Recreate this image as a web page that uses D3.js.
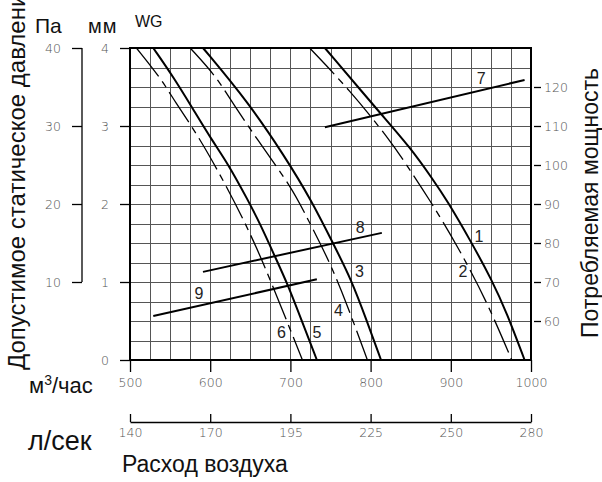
<!DOCTYPE html>
<meta charset="utf-8">
<style>
body { margin: 0; background: #fff; }
svg { font-family: "Liberation Sans", Arial, sans-serif; }
.grid line { stroke: #555; stroke-width: 1; shape-rendering: crispEdges; }
.grid path { stroke-width: 0; }
.axis path, .axis line { stroke: #000; stroke-width: 1.3; }
.axis text { fill: #555; font-size: 12.5px; font-family: "DejaVu Sans", sans-serif; font-weight: 200; }
.curve { fill: none; stroke: #000; stroke-width: 2; }
.curve.dashed { stroke-width: 1.3; stroke-dasharray: 36,6,7,6; }
.power { fill: none; stroke: #000; stroke-width: 2; }
.lbl { font-size: 16px; fill: #222; text-anchor: middle; }
.title { font-size: 23px; fill: #111; }
</style>
<body>
<script src="https://cdnjs.cloudflare.com/ajax/libs/d3/7.8.5/d3.min.js"></script>
<script>
// ticks
var flowTicks = [500, 600, 700, 800, 900, 1000];
var lsLabels = ["140", "170", "195", "225", "250", "280"];
var mmTicks = [0, 1, 2, 3, 4];
var paTicks = [10, 20, 30, 40];
var wTicks = [60, 70, 80, 90, 100, 110, 120];

// pressure curves (flow m3/h, pressure mm WG)
var c1Flow = [743, 814, 849, 878, 895, 924, 951, 970, 992];
var c1Mm   = [4.0, 3.14, 2.73, 2.31, 2.05, 1.54, 1.03, 0.60, 0];
var c2Flow = [724, 774, 824, 841, 874, 909, 945, 976];
var c2Mm   = [4.0, 3.46, 2.82, 2.56, 2.05, 1.45, 0.75, 0];
var c3Flow = [591, 647, 693, 726, 753, 776, 795, 813];
var c3Mm   = [4.0, 3.31, 2.61, 2.05, 1.50, 1.03, 0.51, 0];
var c4Flow = [575, 608, 628, 666, 702, 716, 737, 751, 770, 796];
var c4Mm   = [4.0, 3.63, 3.29, 2.72, 2.20, 1.92, 1.50, 1.20, 0.73, 0];
var c5Flow = [529, 554, 579, 602, 622, 647, 662, 681, 697, 712, 733];
var c5Mm   = [4.0, 3.63, 3.21, 2.82, 2.52, 2.05, 1.75, 1.32, 0.96, 0.56, 0];
var c6Flow = [508, 540, 556, 583, 621, 656, 685, 715];
var c6Mm   = [4.0, 3.59, 3.31, 2.91, 2.22, 1.50, 0.77, 0];

// power lines (flow m3/h, power W)
var p7Flow = [743, 992],  p7W = [109.7, 121.8];
var p8Flow = [591, 814],  p8W = [72.6, 82.6];
var p9Flow = [529, 733],  p9W = [61.3, 70.7];

// curve number labels (flow, mm)
var lblText = ["1", "2", "3", "4", "5", "6", "7", "8", "9"];
var lblFlow = [935, 915, 786, 760, 733, 689, 938, 787, 586];
var lblMm   = [1.58, 1.13, 1.14, 0.63, 0.35, 0.35, 3.61, 1.70, 0.855];

var width = 602, height = 482;
var plot = {left: 130, right: 531, top: 48, bottom: 360};

var x = d3.scaleLinear().domain([500, 1000]).range([plot.left, plot.right]);
var y = d3.scaleLinear().domain([0, 4]).range([plot.bottom, plot.top]);
var yPa = d3.scaleLinear().domain([0, 40]).range([plot.bottom, plot.top]);
var yW = d3.scaleLinear().domain([50, 130]).range([plot.bottom, plot.top]);

var svg = d3.select("body").append("svg")
    .attr("width", width)
    .attr("height", height);

// gridlines
svg.append("g")
    .attr("class", "grid")
    .attr("transform", "translate(0," + plot.bottom + ")")
    .call(d3.axisBottom(x).tickValues(d3.range(525, 1000, 25))
        .tickSize(-(plot.bottom - plot.top)).tickFormat(""));
svg.append("g")
    .attr("class", "grid")
    .attr("transform", "translate(" + plot.left + ",0)")
    .call(d3.axisLeft(y).tickValues(d3.range(0.25, 4, 0.25))
        .tickSize(-(plot.right - plot.left)).tickFormat(""));

// frame
svg.append("rect")
    .attr("x", plot.left).attr("y", plot.top)
    .attr("width", plot.right - plot.left)
    .attr("height", plot.bottom - plot.top)
    .attr("fill", "none").attr("stroke", "#000").attr("stroke-width", 2);

// mm axis
svg.append("g")
    .attr("class", "axis")
    .attr("transform", "translate(" + plot.left + ",0)")
    .call(d3.axisLeft(y).tickValues(mmTicks).tickSize(10).tickPadding(15).tickFormat(d3.format("d")))
    .call(function(g) { g.select(".domain").remove(); })
    .selectAll("text").attr("text-anchor", "middle");

// Pa axis
var pa = svg.append("g")
    .attr("class", "axis")
    .attr("transform", "translate(82,0)")
    .call(d3.axisLeft(yPa).tickValues(paTicks).tickSize(10).tickPadding(11))
    .call(function(g) { g.select(".domain").remove(); });
pa.append("line")
    .attr("y1", yPa(10)).attr("y2", yPa(40))
    .attr("stroke", "#000").attr("stroke-width", 1.3);

// flow axis m3/h
svg.append("g")
    .attr("class", "axis")
    .attr("transform", "translate(0," + plot.bottom + ")")
    .call(d3.axisBottom(x).tickValues(flowTicks).tickSize(12).tickPadding(6).tickFormat(d3.format("d")))
    .call(function(g) { g.select(".domain").remove(); });

// flow axis l/s
svg.append("g")
    .attr("class", "axis")
    .attr("transform", "translate(0,422)")
    .call(d3.axisBottom(x).tickValues(flowTicks)
        .tickFormat(function(d, i) { return lsLabels[i]; })
        .tickSizeInner(-8).tickSizeOuter(0).tickPadding(6));

// power axis
svg.append("g")
    .attr("class", "axis")
    .attr("transform", "translate(" + (plot.right + 3) + ",0)")
    .call(d3.axisRight(yW).tickValues(wTicks).tickSize(7).tickPadding(3))
    .call(function(g) { g.select(".domain").remove(); });

// pressure curves
var line = d3.line()
    .x(function(d) { return x(d[0]); })
    .y(function(d) { return y(d[1]); })
    .curve(d3.curveBasis);

var curves = [
  {f: c1Flow, v: c1Mm, dash: false},
  {f: c2Flow, v: c2Mm, dash: true},
  {f: c3Flow, v: c3Mm, dash: false},
  {f: c4Flow, v: c4Mm, dash: true},
  {f: c5Flow, v: c5Mm, dash: false},
  {f: c6Flow, v: c6Mm, dash: true}
];
curves.forEach(function(c) {
  svg.append("path")
      .datum(d3.zip(c.f, c.v))
      .attr("class", c.dash ? "curve dashed" : "curve")
      .attr("d", line);
});

// power lines
var pline = d3.line()
    .x(function(d) { return x(d[0]); })
    .y(function(d) { return yW(d[1]); });
[[p7Flow, p7W], [p8Flow, p8W], [p9Flow, p9W]].forEach(function(p) {
  svg.append("path")
      .datum(d3.zip(p[0], p[1]))
      .attr("class", "power")
      .attr("d", pline);
});

// curve numbers
svg.selectAll(".lbl")
    .data(lblText)
  .enter().append("text")
    .attr("class", "lbl")
    .attr("x", function(d, i) { return x(lblFlow[i]); })
    .attr("y", function(d, i) { return y(lblMm[i]); })
    .attr("dy", "0.35em")
    .text(function(d) { return d; });

// titles
svg.append("text").attr("class", "title").attr("x", 35).attr("y", 33)
    .style("font-size", "21px").text("Па");
svg.append("text").attr("class", "title").attr("x", 88).attr("y", 33)
    .style("font-size", "20px").style("letter-spacing", "1px").text("мм");
svg.append("text").attr("x", 135).attr("y", 27)
    .style("font-size", "16px").attr("fill", "#111").text("WG");

svg.append("text").attr("class", "title").attr("x", 29).attr("y", 393)
    .style("font-size", "22px")
    .html('м<tspan dy="-8" font-size="14px">3</tspan><tspan dy="8">/час</tspan>');
svg.append("text").attr("class", "title").attr("x", 28).attr("y", 450)
    .style("font-size", "27px").text("л/сек");
svg.append("text").attr("class", "title").attr("x", 122).attr("y", 472).text("Расход воздуха");

svg.append("text").attr("class", "title")
    .attr("transform", "translate(25,370) rotate(-90)")
    .style("font-size", "24px")
    .text("Допустимое статическое давление");

svg.append("text").attr("class", "title")
    .attr("transform", "translate(598,203) rotate(-90)")
    .attr("text-anchor", "middle")
    .text("Потребляемая мощность");
</script>
</body>
